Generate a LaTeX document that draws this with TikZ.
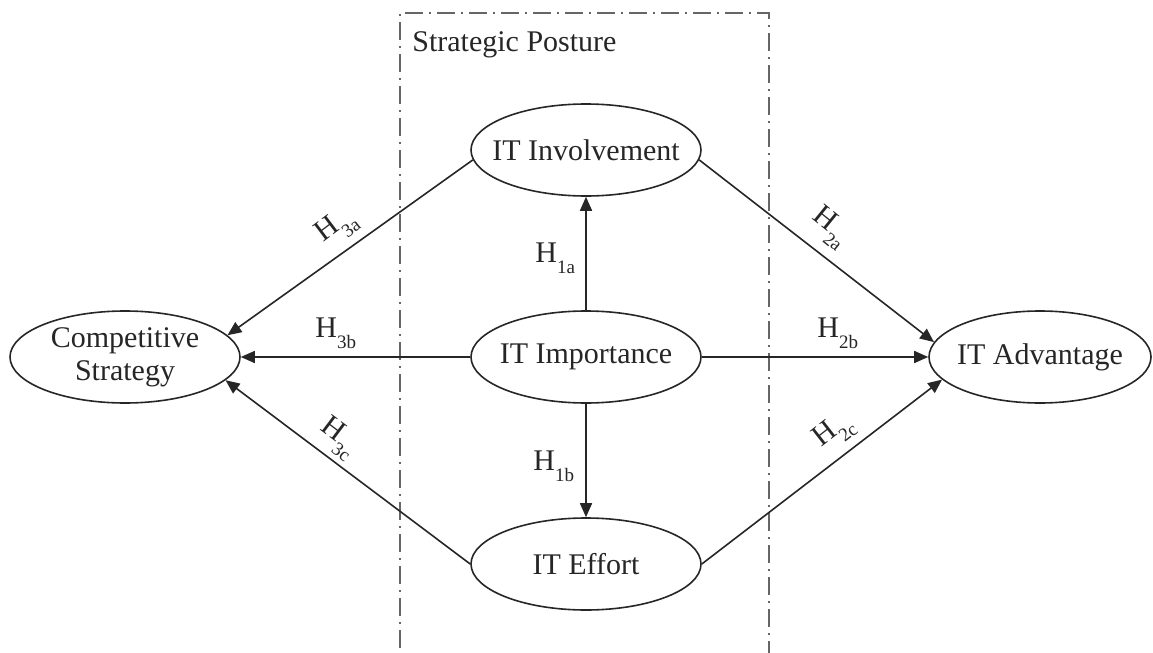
\documentclass[tikz,border=0pt]{standalone}
\usepackage{fontspec}
\setmainfont{Liberation Serif}
\usetikzlibrary{shapes.geometric, positioning}
\usetikzlibrary{arrows.meta}

\newcommand{\hyp}[1]{H\raisebox{-5.5pt}{\fontsize{9.5}{10}\selectfont #1}}

\begin{document}
\begin{tikzpicture}[x=0.5pt, y=-0.5pt,
  construct/.style={ellipse, draw=black!85, line width=0.8pt,
    minimum width=115pt, minimum height=46pt, inner sep=0pt},
  construct text/.style={align=center, text=black!85,
    font=\fontsize{15}{16.5}\selectfont},
  link/.style={-{Triangle[length=7pt, width=6pt]}, line width=0.8pt, black!85},
  hlabel/.style={inner sep=0pt, text=black!85, font=\fontsize{15}{16}\selectfont}]

\useasboundingbox (0,0) rectangle (1153,653);

% strategic posture frame, open at the bottom
\draw[black!60, line width=1pt, dash pattern=on 9pt off 3pt on 1pt off 3pt]
  (400,680) -- (400,13) -- (769,13) -- (769,680);
\node[anchor=base west, inner sep=0pt, text=black!85, font=\fontsize{15}{16}\selectfont]
  (posture) at (412,51) {Strategic Posture};

% constructs
\node[construct, label={[construct text]center:IT Involvement}] (inv) at (586,150) {};
\node[construct, label={[construct text]center:IT Importance}] (imp) at (586,357) {};
\node[construct, label={[construct text]center:IT Effort}] (eff) at (586,564) {};
\node[construct, label={[construct text]center:{Competitive\\Strategy}}] (cs) at (125,357) {};
\node[construct, minimum width=111pt, label={[construct text]center:IT Advantage}] (adv) at (1040,357) {};

% hypotheses
\draw[link] (imp.north) -- (inv.south);
\draw[link] (imp.south) -- (eff.north);
\draw[link] (inv.185) -- (cs.12);
\draw[link] (imp.west) -- (cs.east);
\draw[link] (eff.west) -- (cs.-13);
\draw[link] (inv.355) -- (adv.172);
\draw[link] (imp.east) -- (adv.west);
\draw[link] (eff.east) -- (adv.193);

\node[hlabel, anchor=base west] (h1a) at (535,262) {\hyp{1a}};
\node[hlabel, anchor=base west] (h1b) at (533,470) {\hyp{1b}};
\node[hlabel, anchor=base west] (h3b) at (315,337) {\hyp{3b}};
\node[hlabel, anchor=base west] (h2b) at (817,337) {\hyp{2b}};
\node[hlabel, rotate=37] (h3a) at (337,227) {\hyp{3a}};
\node[hlabel, rotate=-37] (h3c) at (338,438) {\hyp{3c}};
\node[hlabel, rotate=-39] (h2a) at (830,228) {\hyp{2a}};
\node[hlabel, rotate=38] (h2c) at (834,432) {\hyp{2c}};
\end{tikzpicture}
\end{document}
